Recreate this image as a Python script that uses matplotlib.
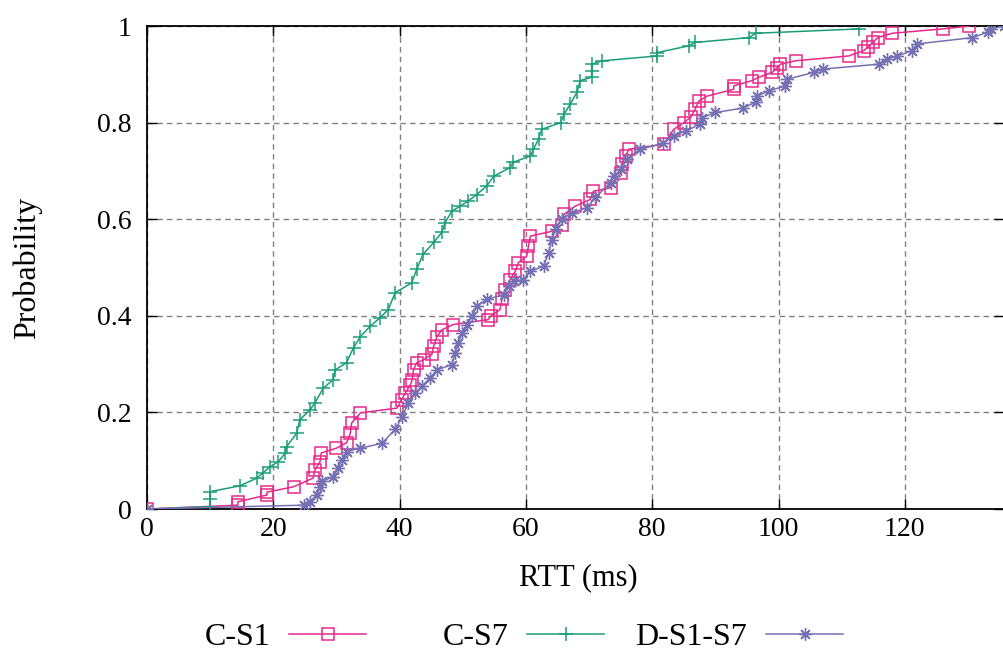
import matplotlib.pyplot as plt

# CDF of RTT
cs1_rtt = [0, 14.4, 14.4, 19.0, 19.0, 23.2, 26.3, 26.6, 27.4, 27.6, 30.0, 31.6, 32.2, 32.4,
           33.8, 39.6, 40.3, 40.9, 41.7, 42.0, 42.2, 42.7, 43.8, 45.1, 45.4, 45.9, 46.7,
           48.5, 54.0, 54.4, 55.9, 56.2, 56.7, 57.5, 58.3, 58.8, 60.1, 60.4, 60.7, 64.1,
           65.7, 66.0, 67.8, 70.2, 70.7, 73.4, 75.0, 75.2, 75.8, 76.3, 81.8, 83.4, 85.0,
           86.1, 86.8, 87.4, 88.7, 92.9, 92.9, 95.8, 96.9, 99.0, 99.8, 100.3, 102.7,
           111.1, 113.5, 114.1, 114.9, 115.7, 118.0, 126.0, 130.2]
cs1_prob = [0, 0.008, 0.015, 0.029, 0.035, 0.046, 0.064, 0.081, 0.098, 0.116, 0.126, 0.137,
            0.157, 0.178, 0.199, 0.209, 0.226, 0.240, 0.257, 0.268, 0.288, 0.303, 0.309,
            0.320, 0.337, 0.357, 0.371, 0.382, 0.392, 0.399, 0.413, 0.434, 0.454, 0.475,
            0.492, 0.510, 0.523, 0.544, 0.565, 0.575, 0.589, 0.610, 0.627, 0.641, 0.658,
            0.665, 0.696, 0.714, 0.731, 0.745, 0.755, 0.786, 0.800, 0.811, 0.828, 0.845,
            0.855, 0.869, 0.876, 0.887, 0.894, 0.904, 0.914, 0.921, 0.928, 0.938, 0.949,
            0.956, 0.966, 0.976, 0.985, 0.994, 1.0]

cs7_rtt = [0, 10.0, 10.0, 10.0, 14.7, 17.4, 18.4, 19.5, 20.8, 21.9, 22.1, 23.7, 24.2, 25.8,
           26.6, 27.9, 29.5, 29.8, 31.6, 32.7, 33.8, 35.3, 36.9, 38.2, 39.3, 41.9, 42.7,
           43.7, 45.4, 46.7, 47.2, 48.3, 49.6, 50.9, 52.2, 53.8, 54.9, 57.5, 58.0, 60.7,
           61.2, 62.0, 62.5, 65.5, 66.0, 67.0, 68.1, 68.6, 70.4, 70.4, 70.4, 72.1, 80.8,
           80.8, 85.8, 86.8, 95.3, 96.4, 112.8]
cs7_prob = [0, 0.005, 0.020, 0.036, 0.048, 0.064, 0.075, 0.088, 0.098, 0.116, 0.129, 0.157,
            0.185, 0.205, 0.220, 0.250, 0.268, 0.288, 0.303, 0.334, 0.357, 0.378, 0.396,
            0.413, 0.448, 0.468, 0.496, 0.527, 0.552, 0.573, 0.593, 0.617, 0.627, 0.638,
            0.651, 0.669, 0.689, 0.707, 0.718, 0.731, 0.745, 0.766, 0.786, 0.800, 0.817,
            0.838, 0.863, 0.887, 0.894, 0.907, 0.921, 0.928, 0.938, 0.945, 0.959, 0.966,
            0.976, 0.985, 0.994]

ds_rtt = [0, 24.8, 25.8, 26.9, 27.4, 27.7, 29.5, 30.3, 30.8, 31.6, 33.8, 37.2, 39.3, 40.4,
          41.4, 42.5, 43.5, 44.8, 45.9, 48.3, 48.8, 49.3, 49.9, 50.7, 51.5, 52.2, 53.8,
          56.5, 57.3, 58.1, 59.6, 60.7, 62.8, 63.6, 64.1, 64.7, 65.7, 67.3, 69.7, 71.0,
          73.4, 73.9, 75.0, 76.0, 78.1, 81.7, 83.4, 85.4, 87.6, 87.9, 90.0, 94.3, 96.4,
          96.6, 98.5, 101.1, 101.4, 105.6, 107.1, 115.9, 117.2, 118.8, 121.2, 122.0,
          130.7, 133.1, 133.6, 135.7]
ds_prob = [0, 0.008, 0.015, 0.029, 0.046, 0.057, 0.067, 0.084, 0.102, 0.119, 0.126, 0.136,
           0.165, 0.191, 0.219, 0.240, 0.254, 0.271, 0.288, 0.299, 0.323, 0.344, 0.365,
           0.382, 0.399, 0.420, 0.434, 0.444, 0.461, 0.472, 0.475, 0.492, 0.503, 0.530,
           0.558, 0.579, 0.600, 0.613, 0.624, 0.645, 0.676, 0.689, 0.703, 0.724, 0.745,
           0.757, 0.773, 0.783, 0.797, 0.810, 0.821, 0.830, 0.842, 0.855, 0.866, 0.876,
           0.890, 0.904, 0.911, 0.921, 0.932, 0.938, 0.949, 0.963, 0.976, 0.987, 0.994, 1.0]

x_ticks = [0, 20, 40, 60, 80, 100, 120]
y_ticks = [0, 0.2, 0.4, 0.6, 0.8, 1.0]
y_ticklabels = ["0", "0.2", "0.4", "0.6", "0.8", "1"]

plt.rcParams["font.family"] = ["Liberation Serif", "DejaVu Serif"]
plt.rcParams["font.size"] = 20

fig = plt.figure(figsize=(10.04, 6.52), dpi=100)
ax = fig.add_axes([0.1464, 0.2193, 0.8536, 0.7408])

lines = []
lines += ax.plot(cs1_rtt, cs1_prob, color="#e7298a", lw=1.1, marker="s", ms=9,
                 mfc="none", mew=1.1, label="C-S1", zorder=3)
lines += ax.plot(cs7_rtt, cs7_prob, color="#1b9e77", lw=1.1, marker="+", ms=10,
                 mew=1.1, label="C-S7", zorder=3)
lines += ax.plot(ds_rtt, ds_prob, color="#7570b3", lw=1.1, marker=(8, 2, 0), ms=9,
                 mew=1.0, label="D-S1-S7", zorder=3)

ax.set_xlim(0, 135.7)
ax.set_ylim(0, 1)
ax.set_xticks(x_ticks)
ax.set_yticks(y_ticks)
ax.set_yticklabels(y_ticklabels)
ax.tick_params(direction="in", length=7, width=1.0, top=True, right=True)
ax.tick_params(axis="x", pad=6)
ax.tick_params(axis="y", pad=11)
ax.grid(True, color="#808080", ls=(0, (4, 3)), lw=1.0)
ax.set_axisbelow(True)
for sp in ax.spines.values():
    sp.set_linewidth(1.3)
ax.spines["right"].set_visible(False)

ax.set_xlabel("RTT (ms)", fontsize=22)
ax.xaxis.set_label_coords(0.503, -0.112)
ax.set_ylabel("Probability", fontsize=23)
ax.yaxis.set_label_coords(-0.1225, 0.5)

# gnuplot-style key: right-justified text followed by the sample, one per column
legend_right = [0.3645, 0.6016, 0.8396]
for line, xr in zip(lines, legend_right):
    fig.legend(handles=[line], loc="center right", bbox_to_anchor=(xr, 0.022),
               frameon=False, markerfirst=False, fontsize=23, handlelength=2.4,
               handletextpad=0.6, borderpad=0, borderaxespad=0)

fig.savefig("out.png", dpi=100)
